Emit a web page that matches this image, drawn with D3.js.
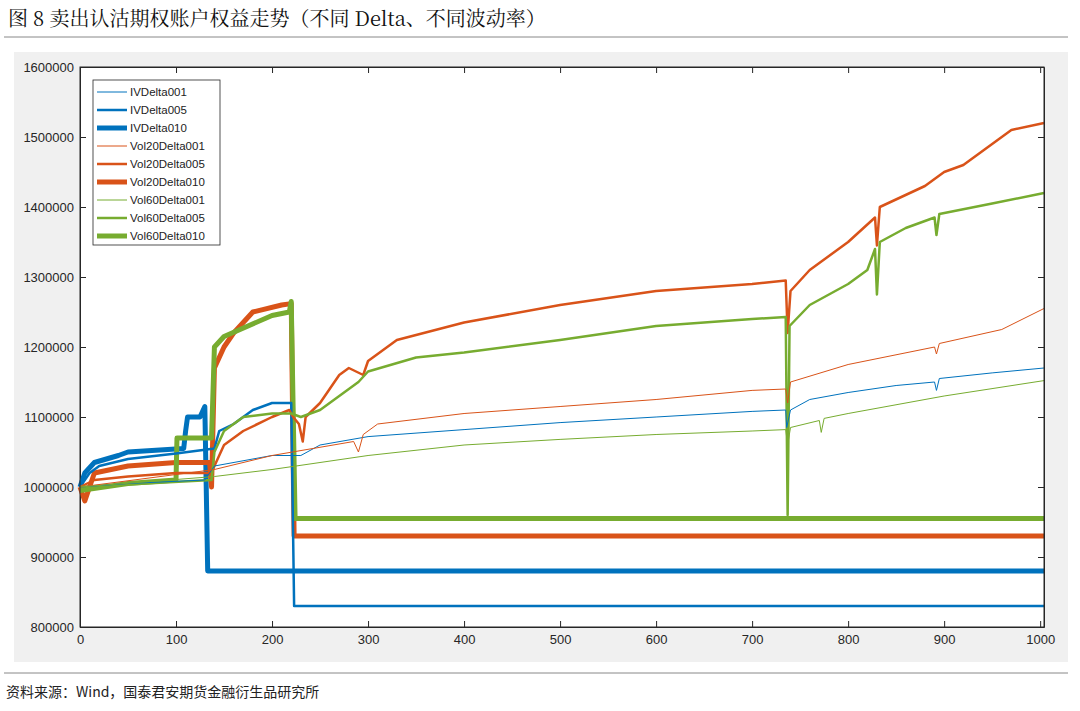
<!DOCTYPE html><html><head><meta charset="utf-8"><script src="https://cdn.jsdelivr.net/npm/d3@7"></script>
<style>body{margin:0;background:#fff}</style></head><body><svg id="c" width="1080" height="711"></svg><script>
const names=["IVDelta001","IVDelta005","IVDelta010","Vol20Delta001","Vol20Delta005","Vol20Delta010","Vol60Delta001","Vol60Delta005","Vol60Delta010"];
const IVDelta001=[[0,1000000],[50,1005000],[130,1010000],[140,1030000],[200,1045000],[230,1045000],[250,1060000],[300,1072000],[400,1082000],[500,1092000],[600,1100000],[700,1108000],[735,1110000],[736,1085000],[740,1110000],[760,1125000],[800,1135000],[850,1145000],[890,1150000],[892,1138000],[895,1155000],[950,1163000],[1004,1170000]];
const IVDelta005=[[0,1000000],[10,1020000],[20,1030000],[50,1040000],[100,1048000],[140,1055000],[145,1080000],[160,1090000],[180,1110000],[200,1120000],[220,1120000],[223,830000],[1004,830000]];
const IVDelta010=[[0,1000000],[5,1020000],[15,1035000],[40,1045000],[50,1050000],[108,1055000],[110,1080000],[112,1100000],[125,1100000],[130,1115000],[133,880000],[1004,880000]];
const Vol20Delta001=[[0,1000000],[140,1025000],[200,1045000],[285,1065000],[290,1050000],[295,1075000],[310,1090000],[400,1105000],[500,1115000],[600,1125000],[700,1138000],[735,1140000],[737,1120000],[740,1150000],[800,1175000],[890,1200000],[892,1190000],[895,1205000],[960,1225000],[1004,1255000]];
const Vol20Delta005=[[0,1000000],[15,1010000],[50,1015000],[100,1020000],[137,1020000],[140,1030000],[150,1060000],[170,1080000],[200,1100000],[218,1110000],[222,1100000],[228,1090000],[232,1065000],[235,1100000],[250,1120000],[270,1160000],[280,1170000],[295,1160000],[300,1180000],[310,1190000],[330,1210000],[400,1235000],[500,1260000],[600,1280000],[700,1290000],[735,1295000],[737,1220000],[740,1280000],[760,1310000],[780,1330000],[800,1350000],[828,1385000],[830,1345000],[833,1400000],[880,1430000],[900,1450000],[920,1460000],[950,1490000],[970,1510000],[1004,1520000]];
const Vol20Delta010=[[0,1000000],[5,980000],[10,1000000],[15,1020000],[50,1030000],[100,1035000],[135,1035000],[137,1000000],[140,1170000],[150,1200000],[160,1220000],[180,1250000],[210,1260000],[220,1262000],[223,930000],[1004,930000]];
const Vol60Delta001=[[0,1000000],[140,1015000],[200,1025000],[300,1045000],[400,1060000],[500,1068000],[600,1075000],[700,1080000],[735,1082000],[737,1060000],[740,1085000],[770,1095000],[772,1078000],[775,1098000],[800,1105000],[900,1130000],[1004,1152000]];
const Vol60Delta005=[[0,1000000],[137,1010000],[140,1050000],[150,1080000],[170,1100000],[200,1105000],[220,1105000],[230,1100000],[250,1110000],[270,1130000],[290,1150000],[300,1165000],[350,1185000],[400,1192000],[500,1210000],[600,1230000],[700,1240000],[735,1243000],[737,960000],[739,1230000],[760,1260000],[800,1290000],[820,1310000],[828,1340000],[830,1275000],[833,1350000],[860,1370000],[890,1385000],[892,1360000],[895,1390000],[950,1405000],[1004,1420000]];
const Vol60Delta010=[[0,995000],[50,1005000],[100,1010000],[101,1070000],[137,1070000],[140,1200000],[150,1215000],[200,1245000],[218,1250000],[220,1265000],[224,955000],[1004,955000]];
const data=[IVDelta001,IVDelta005,IVDelta010,Vol20Delta001,Vol20Delta005,Vol20Delta010,Vol60Delta001,Vol60Delta005,Vol60Delta010];
const colors=["#0072BD","#0072BD","#0072BD","#D95319","#D95319","#D95319","#77AC30","#77AC30","#77AC30"];
const widths=[1,2.5,5,1,2.5,5,1,2.5,5];
const xTicks=[0,100,200,300,400,500,600,700,800,900,1000];
const yTicks=[800000,900000,1000000,1100000,1200000,1300000,1400000,1500000,1600000];
const svg=d3.select("#c");
svg.append("text").attr("x",8).attr("y",26).attr("font-family","'Noto Serif CJK SC','Noto Sans CJK SC',serif").attr("font-size",20).attr("fill","#111").text("图 8  卖出认沽期权账户权益走势（不同 Delta、不同波动率）");
svg.append("line").attr("x1",4).attr("x2",1068).attr("y1",37).attr("y2",37).attr("stroke","#888");
svg.append("rect").attr("x",14).attr("y",52).attr("width",1054).attr("height",610).attr("fill","#f0f0f0");
svg.append("line").attr("x1",4).attr("x2",1068).attr("y1",673).attr("y2",673).attr("stroke","#888");
svg.append("text").attr("x",6).attr("y",697).attr("font-family","'Noto Sans CJK SC',serif").attr("font-size",14).attr("fill","#222").text("资料来源：Wind，国泰君安期货金融衍生品研究所");
const L=80,R=1044,T=67,B=627;
const x=d3.scaleLinear().domain([0,1004]).range([L,R]);
const y=d3.scaleLinear().domain([800000,1600000]).range([B,T]);
svg.append("rect").attr("x",L).attr("y",T).attr("width",R-L).attr("height",B-T).attr("fill","#fff");
svg.append("g").attr("transform",`translate(0,${B})`).call(d3.axisBottom(x).tickValues(xTicks).tickFormat(d3.format("d")).tickSizeInner(-6).tickSizeOuter(0).tickPadding(8));
svg.append("g").attr("transform",`translate(${L},0)`).call(d3.axisLeft(y).tickValues(yTicks).tickFormat(d3.format("d")).tickSizeInner(-6).tickSizeOuter(0).tickPadding(6));
svg.append("g").attr("transform",`translate(0,${T})`).call(d3.axisTop(x).tickValues(xTicks).tickSizeInner(-6).tickSizeOuter(0).tickFormat(""));
svg.append("g").attr("transform",`translate(${R},0)`).call(d3.axisRight(y).tickValues(yTicks).tickSizeInner(-6).tickSizeOuter(0).tickFormat(""));
svg.selectAll(".tick text").attr("font-family","Arial,'Liberation Sans',sans-serif").attr("font-size",13).attr("fill","#262626");
svg.selectAll(".domain,.tick line").attr("stroke","#262626");
const line=d3.line().x(d=>x(d[0])).y(d=>y(d[1]));
[2,5,8,1,4,7,0,3,6].forEach(i=>svg.append("path").datum(data[i]).attr("d",line).attr("fill","none").attr("stroke",colors[i]).attr("stroke-width",widths[i]).attr("stroke-linejoin","round"));
svg.append("rect").attr("x",L).attr("y",T).attr("width",R-L).attr("height",B-T).attr("fill","none").attr("stroke","#262626");
const lg=svg.append("g");
lg.append("rect").attr("x",93).attr("y",80).attr("width",127).attr("height",165).attr("fill","#fff").attr("stroke","#262626").attr("stroke-width",0.8);
names.forEach((n,i)=>{const yy=92+i*18;
lg.append("line").attr("x1",97).attr("x2",127).attr("y1",yy).attr("y2",yy).attr("stroke",colors[i]).attr("stroke-width",widths[i]);
lg.append("text").attr("x",130).attr("y",yy+4).attr("font-family","Arial,'Liberation Sans',sans-serif").attr("font-size",11.5).attr("fill","#222").text(n);});
</script></body></html>
